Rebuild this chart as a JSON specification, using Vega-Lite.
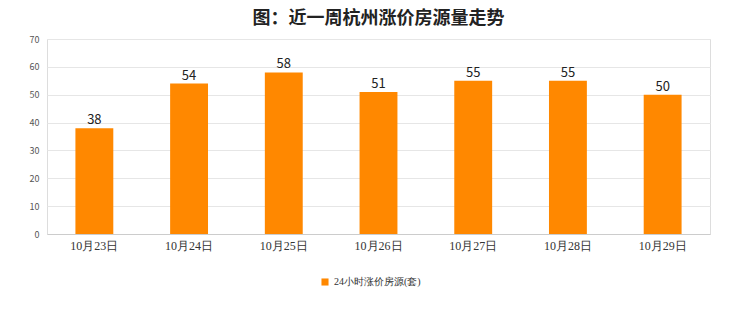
{
  "$schema": "https://vega.github.io/schema/vega-lite/v6.json",
  "autosize": {"type": "none"},
  "width": 663,
  "height": 195,
  "padding": {"left": 47, "top": 39, "right": 30, "bottom": 78},
  "background": "#ffffff",
  "title": {
    "text": "图：近一周杭州涨价房源量走势",
    "anchor": "middle",
    "fontSize": 18,
    "font": "Noto Sans CJK SC",
    "fontWeight": "bold",
    "color": "#222222",
    "offset": 7
  },
  "config": {
    "view": {"stroke": "#dddddd", "strokeWidth": 1},
    "font": "Noto Sans CJK SC"
  },
  "data": {
    "values": [
      {"date": "10月23日", "value": 38, "series": "24小时涨价房源(套)"},
      {"date": "10月24日", "value": 54, "series": "24小时涨价房源(套)"},
      {"date": "10月25日", "value": 58, "series": "24小时涨价房源(套)"},
      {"date": "10月26日", "value": 51, "series": "24小时涨价房源(套)"},
      {"date": "10月27日", "value": 55, "series": "24小时涨价房源(套)"},
      {"date": "10月28日", "value": 55, "series": "24小时涨价房源(套)"},
      {"date": "10月29日", "value": 50, "series": "24小时涨价房源(套)"}
    ]
  },
  "encoding": {
    "x": {
      "field": "date",
      "type": "nominal",
      "sort": null,
      "scale": {"paddingInner": 0.6, "paddingOuter": 0.3},
      "axis": {
        "title": null,
        "labelAngle": 0,
        "labelFont": "Liberation Serif",
        "labelFontSize": 12,
        "labelColor": "#333333",
        "domainColor": "#cccccc",
        "ticks": false,
        "labelPadding": 6
      }
    },
    "y": {
      "field": "value",
      "type": "quantitative",
      "scale": {"domain": [0, 70]},
      "axis": {
        "title": null,
        "values": [0, 10, 20, 30, 40, 50, 60, 70],
        "labelFontSize": 9,
        "labelColor": "#555555",
        "gridColor": "#e6e6e6",
        "domain": false,
        "ticks": false,
        "labelPadding": 8
      }
    }
  },
  "layer": [
    {
      "mark": {"type": "bar", "color": "#FF8800"},
      "encoding": {
        "color": {
          "field": "series",
          "type": "nominal",
          "scale": {"range": ["#FF8800"]},
          "legend": {
            "title": null,
            "orient": "none",
            "legendX": 273,
            "legendY": 238,
            "symbolType": "square",
            "symbolSize": 50,
            "labelFontSize": 10,
            "labelFont": "Liberation Serif",
            "labelColor": "#333333"
          }
        }
      }
    },
    {
      "mark": {"type": "text", "dy": -8, "fontSize": 13, "color": "#222222"},
      "encoding": {"text": {"field": "value", "type": "quantitative"}}
    }
  ]
}
